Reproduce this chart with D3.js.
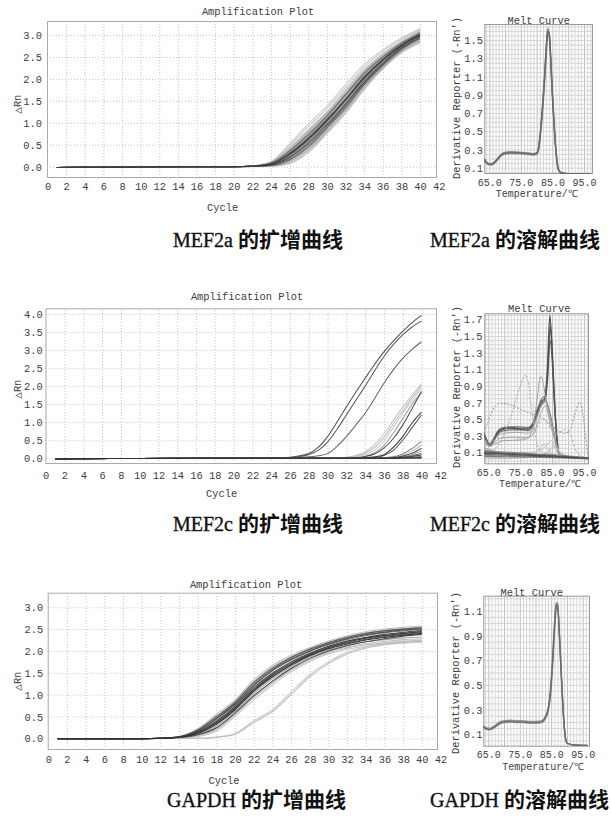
<!DOCTYPE html>
<html>
<head>
<meta charset="utf-8">
<script src="https://cdn.jsdelivr.net/npm/d3@7"></script>
<style>
html, body { margin: 0; padding: 0; background: #fff; }
svg { display: block; }
</style>
</head>
<body>
<script>
// ---------------------------------------------------------------
// Tick labels
// ---------------------------------------------------------------
const cycleTicks = [0, 2, 4, 6, 8, 10, 12, 14, 16, 18, 20, 22, 24, 26, 28, 30, 32, 34, 36, 38, 40, 42];
const rnTicks3 = [0, 0.5, 1.0, 1.5, 2.0, 2.5, 3.0];
const rnTicks4 = [0, 0.5, 1.0, 1.5, 2.0, 2.5, 3.0, 3.5, 4.0];
const tempTicks = [65, 75, 85, 95];
const derivTicksA = [0.1, 0.3, 0.5, 0.7, 0.9, 1.1, 1.3, 1.5];
const derivTicksC = [0.1, 0.3, 0.5, 0.7, 0.9, 1.1, 1.3, 1.5, 1.7];
const derivTicksG = [0.1, 0.3, 0.5, 0.7, 0.9, 1.1];

const geneNames = ["MEF2a", "MEF2c", "GAPDH"];
const ampCaption = "的扩增曲线";
const meltCaption = "的溶解曲线";

// ---------------------------------------------------------------
// MEF2a amplification (ΔRn per cycle, one row per well)
// ---------------------------------------------------------------
const mef2aCycles = [1, 3, 10, 20, 22, 24, 26, 28, 30, 32, 34, 36, 38, 40];
const mef2aAmp = [
  [-0.02, -0.015, -0.005, 0, 0.005, 0.010, 0.07, 0.32, 0.75, 1.21, 1.75, 2.22, 2.60, 2.84],
  [-0.02, -0.015, -0.005, 0, 0.005, 0.015, 0.09, 0.35, 0.78, 1.24, 1.77, 2.24, 2.60, 2.82],
  [-0.02, -0.015, -0.005, 0, 0.006, 0.020, 0.12, 0.39, 0.81, 1.28, 1.81, 2.26, 2.63, 2.88],
  [-0.02, -0.015, -0.005, 0, 0.007, 0.030, 0.16, 0.45, 0.88, 1.34, 1.87, 2.31, 2.67, 2.92],
  [-0.02, -0.015, -0.005, 0, 0.008, 0.035, 0.18, 0.48, 0.91, 1.38, 1.90, 2.33, 2.69, 2.95],
  [-0.02, -0.015, -0.005, 0, 0.008, 0.040, 0.21, 0.52, 0.94, 1.41, 1.92, 2.35, 2.70, 2.94],
  [-0.02, -0.015, -0.005, 0, 0.009, 0.045, 0.23, 0.55, 0.97, 1.44, 1.95, 2.37, 2.72, 2.97],
  [-0.02, -0.015, -0.005, 0, 0.010, 0.050, 0.25, 0.58, 1.00, 1.47, 1.98, 2.40, 2.74, 3.00],
  [-0.02, -0.015, -0.005, 0, 0.010, 0.055, 0.27, 0.61, 1.03, 1.51, 2.01, 2.42, 2.76, 3.02],
  [-0.02, -0.015, -0.005, 0, 0.011, 0.060, 0.30, 0.65, 1.07, 1.54, 2.04, 2.44, 2.77, 3.00],
  [-0.02, -0.015, -0.005, 0, 0.012, 0.070, 0.32, 0.68, 1.10, 1.57, 2.07, 2.46, 2.78, 3.04],
  [-0.02, -0.015, -0.005, 0, 0.013, 0.080, 0.34, 0.71, 1.13, 1.61, 2.10, 2.48, 2.80, 3.06],
  [-0.02, -0.015, -0.005, 0, 0.014, 0.085, 0.36, 0.74, 1.16, 1.64, 2.13, 2.50, 2.81, 3.03],
  [-0.02, -0.015, -0.005, 0, 0.015, 0.090, 0.39, 0.78, 1.19, 1.67, 2.16, 2.53, 2.83, 3.08],
  [-0.02, -0.015, -0.005, 0, 0.017, 0.100, 0.43, 0.84, 1.25, 1.74, 2.21, 2.57, 2.86, 3.10],
  [-0.02, -0.015, -0.005, 0, 0.019, 0.110, 0.48, 0.91, 1.32, 1.80, 2.27, 2.62, 2.90, 3.12],
  [-0.02, -0.015, -0.005, 0, 0.020, 0.120, 0.52, 0.97, 1.38, 1.87, 2.33, 2.66, 2.93, 3.15],
  [-0.02, -0.015, -0.005, 0, 0.006, 0.025, 0.14, 0.42, 0.85, 1.31, 1.84, 2.28, 2.64, 2.86],
  [-0.02, -0.015, -0.005, 0, 0.016, 0.095, 0.41, 0.81, 1.22, 1.70, 2.18, 2.55, 2.84, 3.06],
  [-0.02, -0.015, -0.005, 0, 0.011, 0.060, 0.29, 0.63, 1.05, 1.52, 2.02, 2.43, 2.75, 2.98]
];

// ---------------------------------------------------------------
// MEF2c amplification
// ---------------------------------------------------------------
const mef2cCycles = [1, 3, 10, 20, 24, 26, 28, 29, 30, 31, 32, 33, 34, 35, 36, 37, 38, 39, 40];
const mef2cAmp = [
  [-0.02, -0.012, -0.005, 0, 0.005, 0.03, 0.13, 0.30, 0.60, 1.00, 1.42, 1.83, 2.22, 2.60, 2.95, 3.25, 3.52, 3.76, 3.96],
  [-0.02, -0.012, -0.005, 0, 0.004, 0.02, 0.10, 0.22, 0.45, 0.80, 1.20, 1.60, 2.00, 2.42, 2.82, 3.15, 3.42, 3.64, 3.81],
  [-0.02, -0.012, -0.005, 0, 0.003, 0.01, 0.04, 0.07, 0.13, 0.33, 0.60, 0.92, 1.25, 1.65, 2.08, 2.45, 2.77, 3.02, 3.23],
  [-0.02, -0.012, -0.005, 0, 0, 0, 0, 0, 0, 0.01, 0.03, 0.08, 0.18, 0.38, 0.68, 1.05, 1.42, 1.75, 2.07],
  [-0.02, -0.012, -0.005, 0, 0, 0, 0, 0, 0, 0, 0.02, 0.06, 0.14, 0.30, 0.58, 0.95, 1.32, 1.68, 2.00],
  [-0.02, -0.012, -0.005, 0, 0, 0, 0, 0, 0, 0, 0.01, 0.04, 0.10, 0.22, 0.48, 0.85, 1.25, 1.60, 1.93],
  [-0.02, -0.012, -0.005, 0, 0, 0, 0, 0, 0, 0, 0, 0.02, 0.06, 0.15, 0.35, 0.70, 1.10, 1.50, 1.82],
  [-0.02, -0.012, -0.005, 0, 0, 0, 0, 0, 0, 0, 0, 0.01, 0.05, 0.12, 0.28, 0.55, 0.92, 1.38, 1.85],
  [-0.02, -0.012, -0.005, 0, 0, 0, 0, 0, 0, 0, 0, 0, 0.01, 0.04, 0.10, 0.30, 0.60, 0.98, 1.28],
  [-0.02, -0.012, -0.005, 0, 0, 0, 0, 0, 0, 0, 0, 0, 0, 0.02, 0.08, 0.22, 0.50, 0.85, 1.20],
  [-0.02, -0.012, -0.005, 0, 0, 0, 0, 0, 0, 0, 0, 0, 0, 0.01, 0.02, 0.04, 0.12, 0.27, 0.47],
  [-0.02, -0.012, -0.005, 0, 0, 0, 0, 0, 0, 0, 0, 0, 0, 0, 0.01, 0.03, 0.08, 0.20, 0.37],
  [-0.02, -0.012, -0.005, 0, 0, 0, 0, 0, 0, 0, 0, 0, 0, 0, 0.01, 0.02, 0.06, 0.14, 0.28],
  [-0.02, -0.012, -0.005, 0, 0, 0, 0, 0, 0, 0, 0, 0, 0, 0, 0, 0.01, 0.04, 0.10, 0.20],
  [-0.02, -0.012, -0.005, 0, 0, 0, 0, 0, 0, 0, 0, 0, 0, 0, 0, 0.01, 0.03, 0.07, 0.13],
  [-0.02, -0.012, -0.005, 0, 0, 0, 0, 0, 0, 0, 0, 0, 0, 0, 0, 0, 0.02, 0.05, 0.09],
  [-0.02, -0.012, -0.005, 0, 0, 0, 0, 0, 0, 0, 0, 0, 0, 0, 0, 0, 0.01, 0.03, 0.05],
  [-0.02, -0.012, -0.005, 0, 0, 0, 0, 0, 0, 0, 0, 0, 0, 0, 0, 0, 0.005, 0.01, 0.02],
  [-0.02, -0.012, -0.005, 0, 0, 0, 0, 0, 0, 0, 0, 0, 0, 0, 0, 0, 0, 0, 0.005],
  [-0.02, -0.012, -0.005, 0, 0, 0, 0, 0, 0, 0, 0, 0, 0, 0, 0, 0.005, 0.01, 0.015, 0.02]
];

// ---------------------------------------------------------------
// GAPDH amplification
// ---------------------------------------------------------------
const gapdhCycles = [1, 5, 10, 12, 14, 16, 18, 20, 22, 24, 26, 28, 30, 32, 34, 36, 38, 40];
const gapdhAmp = [
  [-0.01, -0.01, -0.01, 0, 0.040, 0.22, 0.55, 0.88, 1.34, 1.67, 1.90, 2.08, 2.23, 2.35, 2.44, 2.50, 2.54, 2.57],
  [-0.01, -0.01, -0.01, 0, 0.037, 0.20, 0.51, 0.84, 1.29, 1.63, 1.86, 2.05, 2.20, 2.32, 2.41, 2.47, 2.51, 2.55],
  [-0.01, -0.01, -0.01, 0, 0.035, 0.19, 0.49, 0.82, 1.27, 1.60, 1.85, 2.04, 2.19, 2.31, 2.40, 2.46, 2.50, 2.53],
  [-0.01, -0.01, -0.01, 0, 0.034, 0.18, 0.47, 0.80, 1.25, 1.58, 1.83, 2.02, 2.17, 2.29, 2.38, 2.44, 2.49, 2.52],
  [-0.01, -0.01, -0.01, 0, 0.032, 0.175, 0.45, 0.78, 1.22, 1.56, 1.81, 2.00, 2.16, 2.28, 2.37, 2.43, 2.48, 2.51],
  [-0.01, -0.01, -0.01, 0, 0.031, 0.17, 0.43, 0.77, 1.20, 1.54, 1.79, 1.99, 2.14, 2.26, 2.35, 2.42, 2.46, 2.50],
  [-0.01, -0.01, -0.01, 0, 0.028, 0.15, 0.39, 0.73, 1.16, 1.49, 1.75, 1.95, 2.11, 2.23, 2.31, 2.38, 2.43, 2.47],
  [-0.01, -0.01, -0.01, 0, 0.027, 0.14, 0.37, 0.71, 1.13, 1.47, 1.73, 1.93, 2.10, 2.22, 2.30, 2.36, 2.41, 2.45],
  [-0.01, -0.01, -0.01, 0, 0.025, 0.13, 0.36, 0.69, 1.11, 1.45, 1.71, 1.92, 2.08, 2.20, 2.29, 2.35, 2.40, 2.44],
  [-0.01, -0.01, -0.01, 0, 0.023, 0.12, 0.34, 0.67, 1.09, 1.42, 1.69, 1.90, 2.07, 2.18, 2.27, 2.33, 2.38, 2.42],
  [-0.01, -0.01, -0.01, 0, 0.022, 0.11, 0.32, 0.65, 1.07, 1.40, 1.67, 1.89, 2.05, 2.16, 2.25, 2.31, 2.36, 2.40],
  [-0.01, -0.01, -0.01, 0, 0.019, 0.09, 0.28, 0.61, 1.02, 1.36, 1.64, 1.86, 2.02, 2.13, 2.21, 2.26, 2.30, 2.32],
  [-0.01, -0.01, -0.01, 0, 0.016, 0.08, 0.24, 0.58, 0.97, 1.31, 1.60, 1.83, 2.00, 2.12, 2.21, 2.28, 2.34, 2.38],
  [-0.01, -0.01, -0.01, 0, 0.013, 0.06, 0.20, 0.54, 0.93, 1.27, 1.56, 1.79, 1.96, 2.07, 2.14, 2.18, 2.22, 2.24],
  [-0.01, -0.01, -0.01, 0, 0.010, 0.04, 0.16, 0.50, 0.88, 1.22, 1.52, 1.76, 1.93, 2.04, 2.11, 2.15, 2.18, 2.20],
  [-0.01, -0.01, -0.01, 0, 0.015, 0.07, 0.22, 0.56, 0.95, 1.29, 1.58, 1.81, 1.98, 2.09, 2.17, 2.22, 2.26, 2.28],
  [-0.01, -0.01, -0.01, 0, 0, 0, 0.03, 0.11, 0.40, 0.65, 1.06, 1.46, 1.75, 1.97, 2.09, 2.17, 2.22, 2.25],
  [-0.01, -0.01, -0.01, 0, 0, 0, 0.02, 0.09, 0.36, 0.61, 1.00, 1.41, 1.71, 1.93, 2.06, 2.14, 2.19, 2.22]
];

// ---------------------------------------------------------------
// MEF2a melt curve (-dRn/dT per temperature, one row per well)
// ---------------------------------------------------------------
const mef2aTemps = [63.4, 64, 65, 66, 67, 68, 69, 70, 72, 74, 76, 78, 79, 80, 80.5, 81, 81.5, 82, 82.5, 83, 83.5, 84, 84.5, 85, 85.5, 86, 86.5, 87, 88, 90, 93, 97];
const mef2aMelt = [
  [0.19, 0.16, 0.135, 0.14, 0.17, 0.21, 0.245, 0.26, 0.265, 0.262, 0.258, 0.25, 0.245, 0.255, 0.29, 0.42, 0.60, 0.82, 1.08, 1.38, 1.60, 1.55, 1.25, 0.88, 0.58, 0.33, 0.15, 0.07, 0.04, 0.035, 0.03, 0.03],
  [0.20, 0.17, 0.145, 0.15, 0.18, 0.22, 0.255, 0.27, 0.275, 0.272, 0.268, 0.26, 0.255, 0.265, 0.30, 0.44, 0.63, 0.86, 1.12, 1.42, 1.63, 1.57, 1.27, 0.90, 0.60, 0.34, 0.16, 0.075, 0.042, 0.036, 0.032, 0.03],
  [0.18, 0.155, 0.13, 0.13, 0.16, 0.20, 0.235, 0.25, 0.255, 0.252, 0.248, 0.24, 0.238, 0.245, 0.27, 0.38, 0.55, 0.76, 1.00, 1.30, 1.52, 1.56, 1.30, 0.95, 0.63, 0.36, 0.17, 0.08, 0.045, 0.035, 0.03, 0.03],
  [0.19, 0.165, 0.14, 0.145, 0.175, 0.215, 0.25, 0.262, 0.27, 0.268, 0.262, 0.255, 0.25, 0.26, 0.30, 0.43, 0.62, 0.84, 1.10, 1.40, 1.61, 1.56, 1.24, 0.86, 0.56, 0.31, 0.14, 0.065, 0.04, 0.034, 0.03, 0.03],
  [0.20, 0.16, 0.14, 0.14, 0.165, 0.205, 0.24, 0.255, 0.26, 0.258, 0.255, 0.248, 0.242, 0.25, 0.28, 0.40, 0.58, 0.80, 1.05, 1.35, 1.58, 1.58, 1.28, 0.92, 0.60, 0.34, 0.16, 0.07, 0.04, 0.035, 0.03, 0.03],
  [0.185, 0.158, 0.138, 0.142, 0.172, 0.212, 0.248, 0.265, 0.268, 0.265, 0.26, 0.252, 0.248, 0.258, 0.295, 0.43, 0.61, 0.83, 1.09, 1.39, 1.60, 1.54, 1.23, 0.87, 0.57, 0.32, 0.15, 0.07, 0.04, 0.035, 0.03, 0.03]
];

// ---------------------------------------------------------------
// MEF2c melt curve ([temperature, -dRn/dT] points, one list per well)
// ---------------------------------------------------------------
const mef2cMelt = [
  [[63.4,0.33],[64.3,0.25],[65.3,0.19],[66.3,0.22],[67.5,0.31],[69,0.37],[72,0.39],[75,0.38],[77.5,0.38],[79,0.44],[80.5,0.60],[81.8,0.70],[82.8,0.76],[83.5,1.10],[84.3,1.75],[85,1.35],[85.6,0.85],[86.3,0.38],[87,0.12],[88,0.05],[91,0.04],[97,0.03]],
  [[63.4,0.35],[64.3,0.27],[65.3,0.20],[66.3,0.23],[67.5,0.32],[69,0.38],[72,0.40],[75,0.39],[77.5,0.39],[79,0.45],[80.5,0.62],[81.8,0.72],[82.8,0.74],[83.6,1.05],[84.4,1.62],[85.1,1.25],[85.7,0.75],[86.4,0.30],[87.1,0.10],[88,0.05],[91,0.04],[97,0.03]],
  [[63.4,0.31],[64.3,0.24],[65.3,0.18],[66.3,0.21],[67.5,0.29],[69,0.35],[72,0.37],[75,0.37],[77.5,0.36],[79,0.42],[80.5,0.57],[81.8,0.68],[82.8,0.72],[83.6,0.98],[84.4,1.45],[85.1,1.15],[85.7,0.70],[86.4,0.28],[87.1,0.09],[88,0.05],[91,0.04],[97,0.03]],
  [[63.4,0.36],[64.3,0.26],[65.3,0.20],[66.5,0.25],[68,0.36],[70,0.40],[74,0.41],[77.5,0.40],[79,0.46],[80.5,0.63],[81.8,0.75],[82.6,0.77],[83.4,0.70],[84.3,0.58],[85.2,0.42],[86.2,0.22],[87.2,0.08],[89,0.04],[97,0.03]],
  [[63.4,0.28],[64.3,0.22],[65.3,0.18],[66.5,0.22],[68,0.30],[70,0.33],[74,0.34],[77.5,0.33],[79,0.38],[80.5,0.55],[81.8,0.70],[82.8,0.73],[83.6,0.66],[84.5,0.50],[85.5,0.30],[86.5,0.14],[87.5,0.06],[90,0.04],[97,0.03]],
  [[63.4,0.25],[64.5,0.20],[65.5,0.17],[67,0.22],[69,0.27],[73,0.28],[77.5,0.28],[79.2,0.33],[80.7,0.48],[82,0.62],[83,0.66],[84,0.55],[85,0.40],[86,0.25],[87,0.12],[88.5,0.06],[97,0.03]],
  [[63.4,0.12],[66,0.12],[68,0.18],[70,0.32],[72,0.52],[74,0.78],[75.8,0.98],[76.7,1.03],[77.6,0.92],[78.6,0.62],[79.6,0.33],[80.6,0.16],[82,0.10],[86,0.07],[97,0.03]],
  [[63.4,0.22],[65.3,0.17],[67,0.20],[70,0.24],[76,0.25],[78,0.30],[79.3,0.45],[80.4,0.78],[81.4,1.01],[82.3,0.92],[83.2,0.68],[84.2,0.48],[85.5,0.30],[87,0.13],[88.5,0.06],[97,0.03]],
  [[63.4,0.34],[64.5,0.42],[65.8,0.56],[67.3,0.66],[69,0.69],[72,0.67],[75,0.62],[78,0.57],[81,0.53],[84,0.45],[86.5,0.37],[88.5,0.33],[90,0.34],[91,0.40],[92,0.54],[93,0.66],[93.7,0.70],[94.5,0.60],[95.3,0.35],[96.1,0.10],[97,0.04]],
  [[63.4,0.30],[65.3,0.20],[67,0.25],[70,0.28],[77,0.27],[79,0.31],[81,0.45],[82.5,0.50],[84,0.42],[86,0.32],[87.8,0.35],[89.3,0.38],[90.8,0.30],[92.5,0.12],[94.5,0.05],[97,0.03]],
  [[63.4,0.12],[70,0.10],[78,0.10],[82,0.14],[84.8,0.24],[86.8,0.12],[90,0.05],[97,0.03]],
  [[63.4,0.04],[76,0.04],[79,0.07],[81,0.14],[82.5,0.20],[84,0.12],[86,0.06],[97,0.02]],
  [[63.4,0.02],[75,0.03],[82,0.06],[84,0.12],[85.3,0.18],[87,0.08],[97,0.02]],
  [[63.4,0.06],[78,0.05],[83,0.07],[86,0.16],[88,0.09],[91,0.04],[97,0.02]],
  [[63.4,0.09],[70,0.08],[80,0.06],[90,0.04],[97,0.03]],
  [[63.4,0.07],[70,0.065],[80,0.05],[90,0.035],[97,0.025]],
  [[63.4,0.11],[70,0.09],[80,0.07],[90,0.045],[97,0.03]],
  [[63.4,0.05],[75,0.045],[90,0.03],[97,0.02]],
  [[63.4,0.13],[66,0.11],[72,0.10],[80,0.08],[86,0.07],[97,0.03]],
  [[63.4,0.16],[66,0.12],[72,0.09],[80,0.07],[90,0.05],[97,0.03]],
  [[63.4,0.08],[68,0.085],[76,0.07],[86,0.05],[97,0.025]],
  [[63.4,0.10],[70,0.085],[82,0.065],[92,0.04],[97,0.03]]
];

// ---------------------------------------------------------------
// GAPDH melt curve
// ---------------------------------------------------------------
const gapdhTemps = [63.4, 64, 65, 66, 67, 68, 69, 70, 72, 74, 76, 78, 80, 82, 83, 84, 84.5, 85, 85.5, 86, 86.5, 87, 87.5, 88, 88.5, 89, 89.5, 90, 92, 96.5];
const gapdhMelt = [
  [0.16, 0.15, 0.14, 0.145, 0.16, 0.18, 0.195, 0.20, 0.205, 0.20, 0.20, 0.195, 0.195, 0.20, 0.23, 0.30, 0.38, 0.52, 0.72, 0.95, 1.13, 1.15, 0.95, 0.68, 0.42, 0.20, 0.07, 0.03, 0.015, 0.01],
  [0.17, 0.16, 0.15, 0.155, 0.17, 0.19, 0.205, 0.21, 0.215, 0.21, 0.21, 0.205, 0.205, 0.21, 0.24, 0.31, 0.40, 0.55, 0.76, 0.99, 1.16, 1.17, 0.97, 0.70, 0.44, 0.21, 0.08, 0.03, 0.015, 0.01],
  [0.155, 0.145, 0.135, 0.14, 0.155, 0.172, 0.188, 0.193, 0.198, 0.195, 0.195, 0.19, 0.19, 0.195, 0.22, 0.28, 0.35, 0.48, 0.67, 0.90, 1.09, 1.14, 0.98, 0.72, 0.45, 0.22, 0.08, 0.03, 0.015, 0.01],
  [0.165, 0.152, 0.142, 0.148, 0.163, 0.183, 0.20, 0.205, 0.21, 0.205, 0.203, 0.198, 0.198, 0.205, 0.235, 0.31, 0.39, 0.54, 0.74, 0.97, 1.15, 1.14, 0.93, 0.66, 0.40, 0.19, 0.065, 0.028, 0.015, 0.01],
  [0.16, 0.148, 0.138, 0.143, 0.158, 0.177, 0.192, 0.198, 0.203, 0.198, 0.198, 0.193, 0.193, 0.198, 0.225, 0.29, 0.37, 0.50, 0.70, 0.93, 1.11, 1.16, 0.96, 0.70, 0.43, 0.21, 0.075, 0.03, 0.015, 0.01]
];

// ---------------------------------------------------------------
// Styling
// ---------------------------------------------------------------
const mef2aShades = ["#c8c8c8", "#bdbdbd", "#a0a0a0", "#5a5a5a", "#8c8c8c", "#484848", "#6e6e6e", "#9a9a9a", "#555555", "#3c3c3c",
                     "#a8a8a8", "#8a8a8a", "#666666", "#b2b2b2", "#bbbbbb", "#c4c4c4", "#cacaca", "#c2c2c2", "#b8b8b8", "#404040"];
const mef2cShades = ["#505050", "#5a5a5a", "#666666", "#c4c4c4", "#bdbdbd", "#cacaca", "#9c9c9c", "#505050", "#3a3a3a", "#555555",
                     "#888888", "#bbbbbb", "#555555", "#aaaaaa", "#666666", "#444444", "#777777", "#999999", "#555555", "#333333"];
const gapdhShades = ["#c0c0c0", "#9a9a9a", "#5a5a5a", "#b0b0b0", "#4a4a4a", "#7a7a7a", "#404040", "#8a8a8a", "#383838", "#606060",
                     "#303030", "#a5a5a5", "#4a4a4a", "#bababa", "#c8c8c8", "#c2c2c2", "#c4c4c4", "#bcbcbc"];
const bandStyle = { c: "#6a6a6a", w: 1.3, o: 0.6 };
const mef2cMeltStyles = [
  { c: "#444", w: 1.3, o: 0.9 }, { c: "#4a4a4a", w: 1.3, o: 0.9 }, { c: "#555", w: 1.2, o: 0.85 },
  { c: "#707070", w: 1.1, o: 0.9 }, { c: "#999", w: 1, o: 0.9 }, { c: "#a5a5a5", w: 1, o: 0.9 },
  { c: "#a8a8a8", w: 1, o: 1, d: "2,1.5" }, { c: "#a0a0a0", w: 1, o: 1 },
  { c: "#9a9a9a", w: 1, o: 1, d: "2,1.5" }, { c: "#aaaaaa", w: 1, o: 1, d: "3,2" },
  { c: "#bbb", w: 1, o: 1 }, { c: "#c0c0c0", w: 1, o: 1 }, { c: "#bbb", w: 1, o: 1 }, { c: "#c4c4c4", w: 1, o: 1 },
  { c: "#555", w: 1.2, o: 0.8 }, { c: "#4a4a4a", w: 1.2, o: 0.8 }, { c: "#5a5a5a", w: 1.2, o: 0.8 }, { c: "#666", w: 1.2, o: 0.8 },
  { c: "#777", w: 1.1, o: 0.8 }, { c: "#888", w: 1.1, o: 0.8 }, { c: "#444", w: 1.2, o: 0.8 }, { c: "#555", w: 1.2, o: 0.8 }
];

const TEXT = "#3d3d3d";
const MONO = '"Liberation Mono", "DejaVu Sans Mono", monospace';
const FS = 10.4;

// ---------------------------------------------------------------
// Drawing
// ---------------------------------------------------------------
const svg = d3.select("body").append("svg").attr("width", 611).attr("height", 825);
const defs = svg.append("defs");
let clipCount = 0;
function clipRect(l, r, t, b) {
  const id = "plotclip" + (clipCount++);
  defs.append("clipPath").attr("id", id).append("rect")
    .attr("x", l).attr("y", t).attr("width", r - l).attr("height", b - t);
  return `url(#${id})`;
}

function label(g, txt, x, y, rotate, size) {
  const t = g.append("text").attr("x", x).attr("y", y)
    .attr("text-anchor", "middle").attr("dominant-baseline", "central")
    .attr("font-family", MONO).attr("font-size", size || FS).attr("fill", TEXT).text(txt);
  if (rotate) t.attr("transform", `rotate(-90 ${x} ${y})`);
  return t;
}

function styleAxisText(sel, size) {
  sel.select(".domain").remove();
  sel.selectAll("text").attr("font-family", MONO).attr("font-size", size || FS).attr("fill", TEXT).attr("dy", "0.35em");
}

function drawAmp(L, cycles, series, shades, yTicks) {
  const [l, r, t, b] = L.frame;
  const x = d3.scaleLinear().domain([0, 40]).range([L.x0, L.x40]);
  const y = d3.scaleLinear().domain([0, L.yRef]).range([L.y0, L.yRefPx]);
  const g = svg.append("g");

  // dotted grid
  const gx = g.append("g").attr("transform", `translate(0,${b})`)
    .call(d3.axisBottom(x).tickValues(cycleTicks.filter(c => c > 0 && x(c) < r - 2)).tickSize(-(b - t)).tickFormat(""));
  gx.select(".domain").remove();
  gx.selectAll("line").attr("stroke", "#c4c4c4").attr("stroke-dasharray", "1,2");
  const gy = g.append("g").attr("transform", `translate(${l},0)`)
    .call(d3.axisLeft(y).tickValues(yTicks).tickSize(-(r - l)).tickFormat(""));
  gy.select(".domain").remove();
  gy.selectAll("line").attr("stroke", "#c4c4c4").attr("stroke-dasharray", "1,2");

  // frame
  g.append("rect").attr("x", l + 0.5).attr("y", t + 0.5).attr("width", r - l - 1).attr("height", b - t - 1)
    .attr("fill", "none").attr("stroke", "#aaaaaa");

  // tick labels
  const ax = g.append("g").attr("transform", `translate(0,${L.xTickY})`)
    .call(d3.axisBottom(x).tickValues(cycleTicks).tickSize(0).tickPadding(0).tickFormat(d3.format("d")));
  styleAxisText(ax);
  const ay = g.append("g").attr("transform", `translate(${L.yTickX},0)`)
    .call(d3.axisLeft(y).tickValues(yTicks).tickSize(0).tickPadding(0).tickFormat(d3.format(".1f")));
  styleAxisText(ay);

  // curves, lighter wells first so darker ones sit on top
  const line = d3.line().x((d, i) => x(cycles[i])).y(d => y(d)).curve(d3.curveMonotoneX);
  const order = d3.range(series.length).sort((a, c) => d3.hsl(shades[c]).l - d3.hsl(shades[a]).l);
  g.append("g").attr("clip-path", clipRect(l, r, t, b))
    .selectAll("path").data(order).join("path")
    .attr("d", i => line(series[i]))
    .attr("fill", "none").attr("stroke", i => shades[i]).attr("stroke-width", 1.05);

  label(g, "Amplification Plot", L.title[0], L.title[1]);
  label(g, "Cycle", L.xlab[0], L.xlab[1]);
  label(g, "△Rn", L.ylab[0], L.ylab[1], true);
}

function drawMelt(L, curves, styles, yTicks) {
  const [l, r, t, b] = L.frame;
  const x = d3.scaleLinear().domain([65, 95]).range([L.x65, L.x95]);
  const y = d3.scaleLinear().domain([yTicks[0], yTicks[yTicks.length - 1]]).range([L.yLo, L.yHi]);
  const g = svg.append("g");

  // fine grid: 1 °C and 0.05 steps
  const vx = d3.range(Math.ceil(x.invert(l) + 0.05), x.invert(r - 0.5), 1);
  const gx = g.append("g").attr("transform", `translate(0,${b})`)
    .call(d3.axisBottom(x).tickValues(vx).tickSize(-(b - t)).tickFormat(""));
  gx.select(".domain").remove();
  gx.selectAll("line").attr("stroke", d => (d % 5 === 0 ? "#bdbdbd" : "#d6d6d6"));
  const hy = d3.range(Math.ceil(y.invert(b) / 0.05 + 0.01), Math.floor(y.invert(t) / 0.05) + 1).map(k => k * 0.05);
  const gy = g.append("g").attr("transform", `translate(${l},0)`)
    .call(d3.axisLeft(y).tickValues(hy).tickSize(-(r - l)).tickFormat(""));
  gy.select(".domain").remove();
  gy.selectAll("line").attr("stroke", "#d6d6d6");

  g.append("rect").attr("x", l + 0.5).attr("y", t + 0.5).attr("width", r - l - 1).attr("height", b - t - 1)
    .attr("fill", "none").attr("stroke", "#9a9a9a");

  const ax = g.append("g").attr("transform", `translate(0,${L.xTickY})`)
    .call(d3.axisBottom(x).tickValues(tempTicks).tickSize(0).tickPadding(0).tickFormat(d3.format(".1f")));
  styleAxisText(ax, 10);
  const ay = g.append("g").attr("transform", `translate(${L.yTickX},0)`)
    .call(d3.axisLeft(y).tickValues(yTicks).tickSize(0).tickPadding(0).tickFormat(d3.format(".1f")));
  styleAxisText(ay);

  const line = d3.line().x(d => x(d[0])).y(d => y(d[1])).curve(d3.curveMonotoneX);
  g.append("g").attr("clip-path", clipRect(l, r, t, b))
    .selectAll("path").data(curves).join("path")
    .attr("d", line).attr("fill", "none")
    .attr("stroke", (d, i) => styles[i].c)
    .attr("stroke-width", (d, i) => styles[i].w)
    .attr("stroke-opacity", (d, i) => styles[i].o)
    .attr("stroke-dasharray", (d, i) => styles[i].d || null);

  label(g, "Melt Curve", L.title[0], L.title[1]);
  label(g, "Temperature/℃", L.xlab[0], L.xlab[1], false, 10);
  label(g, "Derivative Reporter (-Rn')", L.ylab[0], L.ylab[1], true);
}

function caption(x, y, gene, cjk) {
  const t = svg.append("text").attr("x", x).attr("y", y).attr("fill", "#111");
  t.append("tspan").attr("font-family", '"Liberation Serif", "Times New Roman", serif').attr("font-size", 20)
    .attr("stroke", "#111").attr("stroke-width", 0.35).text(gene);
  t.append("tspan").attr("dx", 5).attr("font-family", '"Noto Sans CJK SC", sans-serif')
    .attr("font-weight", 700).attr("font-size", 21).text(cjk);
}

const withTemps = (temps, rows) => rows.map(vals => vals.map((v, i) => [temps[i], v]));

// --- MEF2a ---
drawAmp({ frame: [47, 437, 21, 178], x0: 47.5, x40: 420, y0: 166.7, yRef: 3, yRefPx: 35,
          xTickY: 186.7, yTickX: 42, title: [258, 11.7], xlab: [222.7, 208], ylab: [18.3, 104] },
        mef2aCycles, mef2aAmp, mef2aShades, rnTicks3);
drawMelt({ frame: [484.3, 593, 24, 174], x65: 489.3, x95: 584, yLo: 167.7, yHi: 40,
           xTickY: 182.5, yTickX: 483, title: [538.7, 21], xlab: [536.7, 194.3], ylab: [456.7, 98] },
         withTemps(mef2aTemps, mef2aMelt), mef2aMelt.map(() => bandStyle), derivTicksA);

// --- MEF2c ---
drawAmp({ frame: [45.5, 437, 308.3, 464], x0: 45.7, x40: 421.5, y0: 458.3, yRef: 4, yRefPx: 314,
          xTickY: 475, yTickX: 42.7, title: [247, 296.7], xlab: [221.7, 494], ylab: [18.3, 389] },
        mef2cCycles, mef2cAmp, mef2cShades, rnTicks4);
drawMelt({ frame: [484.3, 589, 313.3, 464.3], x65: 488.3, x95: 584, yLo: 452.3, yHi: 319.3,
           xTickY: 472.5, yTickX: 482.5, title: [539.3, 309.3], xlab: [540, 484.3], ylab: [456.7, 387] },
         mef2cMelt, mef2cMeltStyles, derivTicksC);

// --- GAPDH ---
drawAmp({ frame: [47.7, 438, 592.7, 750], x0: 48.3, x40: 421.8, y0: 738.3, yRef: 3, yRefPx: 607.3,
          xTickY: 759.3, yTickX: 43.3, title: [246, 585], xlab: [224, 780.7], ylab: [18.3, 681] },
        gapdhCycles, gapdhAmp, gapdhShades, rnTicks3);
drawMelt({ frame: [483.3, 590, 595.7, 746.7], x65: 488.3, x95: 582.7, yLo: 734.3, yHi: 610.7,
           xTickY: 754.8, yTickX: 482.5, title: [531.7, 592.7], xlab: [543.3, 767.5], ylab: [456, 673] },
         withTemps(gapdhTemps, gapdhMelt), gapdhMelt.map(() => bandStyle), derivTicksG);

// --- captions ---
const captionRows = [246.5, 531, 807];
const ampCaptionX = [173, 173, 167];
geneNames.forEach((gene, i) => {
  caption(ampCaptionX[i], captionRows[i], gene, ampCaption);
  caption(430, captionRows[i], gene, meltCaption);
});
</script>
</body>
</html>
